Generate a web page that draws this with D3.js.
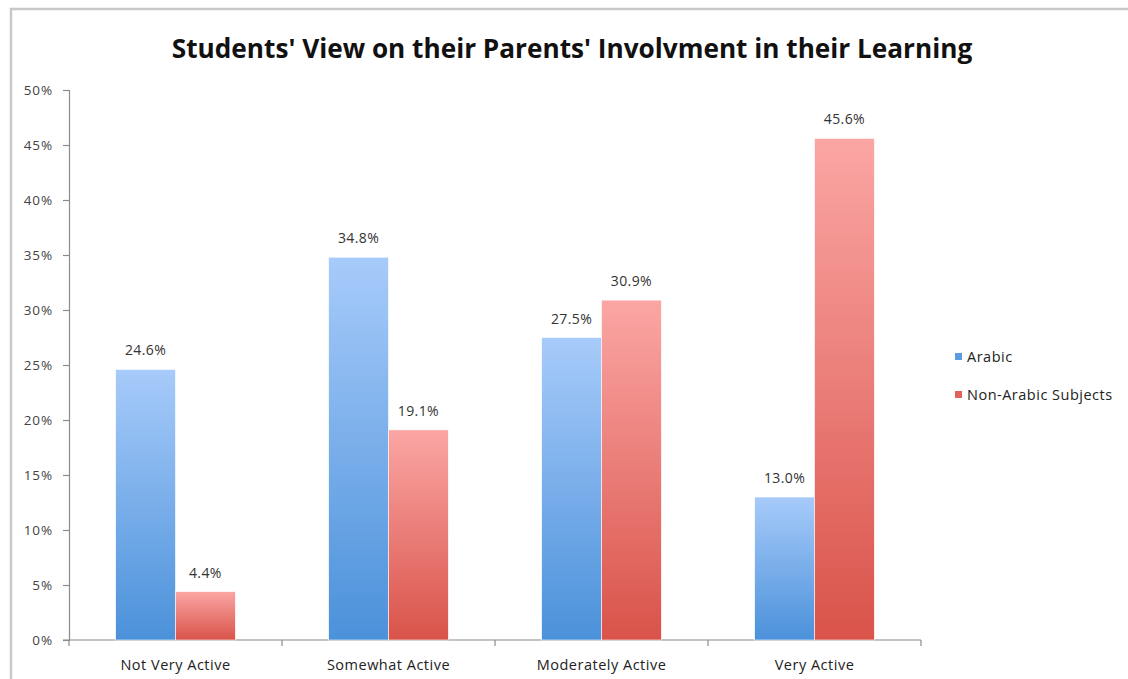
<!DOCTYPE html>
<html>
<head>
<meta charset="utf-8">
<script src="https://cdn.jsdelivr.net/npm/d3@7"></script>
<style>
  html, body { margin: 0; padding: 0; background: #fff; }
  svg { display: block; font-family: "Open Sans", "DejaVu Sans", sans-serif; }
</style>
</head>
<body>
<svg id="chart" width="1128" height="679"></svg>
<script>
const categories = ["Not Very Active", "Somewhat Active", "Moderately Active", "Very Active"];
const seriesNames = ["Arabic", "Non-Arabic Subjects"];
const arabic = [24.6, 34.8, 27.5, 13.0];
const nonArabic = [4.4, 19.1, 30.9, 45.6];
const yTicks = [0, 5, 10, 15, 20, 25, 30, 35, 40, 45, 50];

const svg = d3.select("#chart");
const margin = { left: 69, right: 207, top: 90, bottom: 39 };
const W = 1128, H = 679;

// outer frame (top and left edges visible)
svg.append("rect")
  .attr("x", 11).attr("y", 9)
  .attr("width", 1200).attr("height", 800)
  .attr("fill", "none").attr("stroke", "#c8c8c8").attr("stroke-width", 2.5);

const defs = svg.append("defs");
const gradients = [
  { id: "gBlue", top: "#a7cbfa", bottom: "#4b91da" },
  { id: "gRed", top: "#fba6a4", bottom: "#d9534a" }
];
gradients.forEach(g => {
  const lg = defs.append("linearGradient").attr("id", g.id)
    .attr("x1", 0).attr("y1", 0).attr("x2", 0).attr("y2", 1);
  lg.append("stop").attr("offset", "0%").attr("stop-color", g.top);
  lg.append("stop").attr("offset", "100%").attr("stop-color", g.bottom);
});

const x0 = d3.scaleBand().domain(categories)
  .range([margin.left, W - margin.right]).paddingInner(0).paddingOuter(0);
const x1 = d3.scaleBand().domain(seriesNames)
  .range([0, x0.bandwidth()]).paddingInner(0).paddingOuter(0.78);
const y = d3.scaleLinear().domain([0, 50]).range([H - margin.bottom, margin.top]);

// title
svg.append("text")
  .attr("x", 572).attr("y", 58)
  .attr("text-anchor", "middle")
  .attr("font-size", 26.2).attr("font-weight", 700)
  .attr("fill", "#111")
  .text("Students' View on their Parents' Involvment in their Learning");

// y axis
const yAxis = d3.axisLeft(y).tickValues(yTicks).tickSize(6).tickPadding(10)
  .tickFormat(d => d + "%");
const gy = svg.append("g").attr("transform", `translate(${margin.left},0)`).call(yAxis);
gy.select(".domain").attr("stroke", "#8a8a8a").attr("stroke-width", 1.2);
gy.selectAll(".tick line").attr("stroke", "#8a8a8a").attr("stroke-width", 1.2);
gy.selectAll(".tick text").attr("font-size", 13.5).attr("fill", "#444")
  .attr("letter-spacing", 0.9)
  .attr("font-family", "'Open Sans', sans-serif");

// x axis
const gx = svg.append("g").attr("transform", `translate(0,${y(0)})`);
gx.append("line")
  .attr("x1", margin.left - 6).attr("x2", W - margin.right)
  .attr("stroke", "#8a8a8a").attr("stroke-width", 1.2);
const boundaries = categories.map(c => x0(c)).concat([x0(categories[3]) + x0.bandwidth()]);
gx.selectAll("line.tk").data(boundaries).join("line").attr("class", "tk")
  .attr("x1", d => d).attr("x2", d => d).attr("y1", 0).attr("y2", 6)
  .attr("stroke", "#8a8a8a").attr("stroke-width", 1.2);
gx.selectAll("text").data(categories).join("text")
  .attr("x", d => x0(d) + x0.bandwidth() / 2).attr("y", 30)
  .attr("text-anchor", "middle").attr("font-size", 14.5).attr("fill", "#222")
  .attr("letter-spacing", 0.5)
  .text(d => d);

// bars
const rows = categories.map((c, i) => ({ c, vals: [arabic[i], nonArabic[i]] }));
const grp = svg.append("g").selectAll("g").data(rows).join("g")
  .attr("transform", d => `translate(${x0(d.c)},0)`);
grp.selectAll("rect").data(d => d.vals.map((v, k) => ({ k, v })))
  .join("rect")
  .attr("x", d => x1(seriesNames[d.k]))
  .attr("y", d => y(d.v))
  .attr("width", x1.bandwidth())
  .attr("height", d => y(0) - y(d.v))
  .attr("fill", d => d.k === 0 ? "url(#gBlue)" : "url(#gRed)")
  .attr("stroke", "#fff").attr("stroke-width", 0.6);
grp.selectAll("text").data(d => d.vals.map((v, k) => ({ k, v })))
  .join("text")
  .attr("x", d => x1(seriesNames[d.k]) + x1.bandwidth() / 2)
  .attr("y", d => y(d.v) - 14)
  .attr("text-anchor", "middle").attr("font-size", 14).attr("fill", "#333")
  .attr("letter-spacing", 0.4)
  .text(d => d.v.toFixed(1) + "%");

// legend
const legendColors = ["#5b9be0", "#e0625a"];
const lg = svg.append("g").attr("transform", "translate(955,357)");
seriesNames.forEach((s, i) => {
  const row = lg.append("g").attr("transform", `translate(0,${i * 38})`);
  row.append("rect").attr("x", 0).attr("y", -4).attr("width", 7).attr("height", 7)
    .attr("fill", legendColors[i]);
  row.append("text").attr("x", 12).attr("y", 5)
    .attr("font-size", 14.5).attr("fill", "#222")
    .attr("letter-spacing", 0.5).text(s);
});
</script>
</body>
</html>
